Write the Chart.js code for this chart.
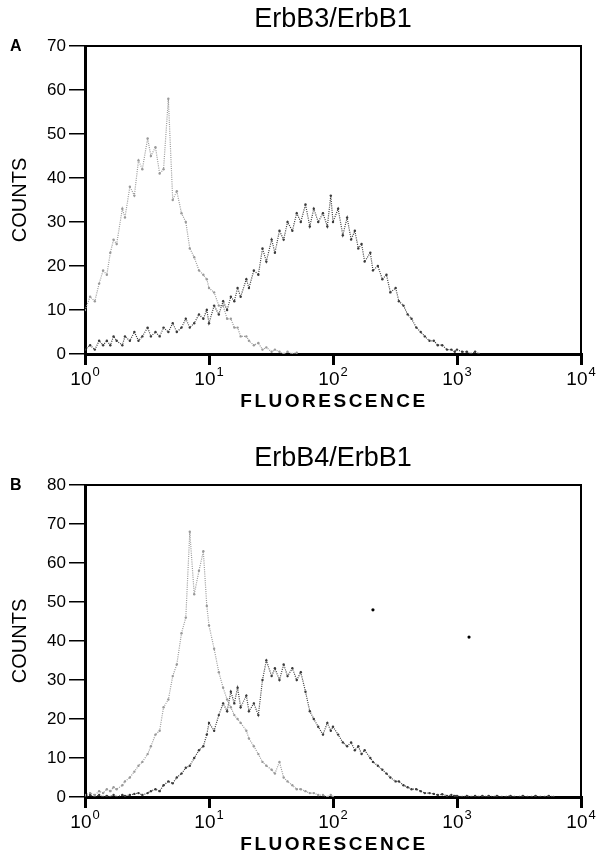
<!DOCTYPE html>
<html>
<head>
<meta charset="utf-8">
<script src="https://cdn.jsdelivr.net/npm/chart.js@4.4.0/dist/chart.umd.min.js"></script>
<style>
    body { margin: 0; background: #fff; width: 605px; height: 858px; overflow: hidden; }
    .panel { position: absolute; left: 0; width: 605px; }
    #panelA { top: 0; height: 430px; }
    #panelB { top: 430px; height: 428px; }
</style>
</head>
<body>
<div class="panel" id="panelA"><canvas id="chartA"></canvas></div>
<div class="panel" id="panelB"><canvas id="chartB"></canvas></div>
<script>
'use strict'

// fluorescence channels (log scale, 10^0 .. 10^4)
var channels = [
    1.0, 1.1, 1.2, 1.3, 1.4, 1.5, 1.6, 1.7, 1.8, 2.0, 2.1, 2.3, 2.5, 2.7, 2.9, 3.2, 3.4, 3.7, 4.0, 4.3, 4.7, 5.1, 5.5, 6.0, 6.5, 7.0, 7.6, 8.3, 9.0, 9.6,
    10, 11, 12, 13, 14, 15, 16, 17, 18, 20, 21, 23, 25, 27, 29, 32, 34, 37, 40, 43, 47, 51, 55, 60, 65, 70, 76, 83, 90, 96,
    100, 110, 120, 130, 140, 150, 160, 170, 180, 200, 210, 230, 250, 270, 290, 320, 340, 370, 400, 430, 470, 510, 550, 600, 650, 700, 760, 830, 900, 960,
    1000, 1100, 1200, 1300, 1400, 1500, 1600, 1700, 1800, 2000, 2100, 2300, 2500, 2700, 2900, 3200, 3400, 3700, 4000, 4300, 4700, 5100, 5500, 6000, 6500, 7000, 7600, 8300, 9000, 9600
];

// panel A - ErbB3/ErbB1
var erbB3Control = [
    10, 13, 12, 16, 19, 18, 23, 26, 25, 33, 31, 38, 36, 44, 42, 49, 45, 47, 41, 42, 58, 35, 37, 32, 30, 24, 22, 19, 18, 17,
    15, 14, 11, 11, 8, 8, 6, 6, 4, 4, 3, 2, 2.5, 1, 1.5, 0.5, 1, 0.5, 0, 0.5, 0, 0.3, null, null, null, null, null, null, null, null,
    null, null, null, null, null, null, null, null, null, null, null, null, null, null, null, null, null, null, null, null, null, null, null, null, null, null, null, null, null, null,
    null, null, null, null, null, null, null, null, null, null, null, null, null, null, null, null, null, null, null, null, null, null, null, null, null, null, null, null, null, null
];
var erbB3Sample = [
    1, 2, 1, 3, 2, 3, 2, 4, 3, 2, 4, 3, 5, 3, 4, 6, 4, 5, 4, 6, 5, 7, 5, 6, 8, 6, 7, 9, 8, 10,
    7, 11, 9, 12, 10, 13, 12, 15, 13, 17, 15, 19, 18, 24, 21, 26, 23, 28, 26, 30, 28, 32, 30, 34, 29, 33, 30, 32, 29, 36,
    30, 33, 27, 31, 26, 28, 24, 25, 21, 23, 19, 20, 17, 18, 14, 15, 12, 11, 9, 8, 6, 5, 4, 3, 3, 2, 2, 1, 1, 0.5,
    1, 0.5, 0.5, 0, 0.5, 0, null, null, null, null, null, null, null, null, null, null, null, null, null, null, null, null, null, null, null, null, null, null, null, null
];

// panel B - ErbB4/ErbB1
var erbB4Control = [
    0.5, 1, 0.5, 1.5, 1, 2, 1.5, 2.5, 2, 3, 4, 5, 6.5, 8, 9, 11, 13, 16, 17, 23, 25, 31, 34, 42, 46, 68, 52, 58, 63, 49,
    44, 38, 32, 28, 25, 23, 21, 20, 19, 17, 15, 13, 11, 9, 8, 7, 6, 9, 5, 4, 3, 2, 2, 1.5, 1, 1, 0.5, 0.5, 0, 0.5,
    0, null, null, null, null, null, null, null, null, null, null, null, null, null, null, null, null, null, null, null, null, null, null, null, null, null, null, null, null, null,
    null, null, null, null, null, null, null, null, null, null, null, null, null, null, null, null, null, null, null, null, null, null, null, null, null, null, null, null, null, null
];
var erbB4Sample = [
    0, 0.5, 0, 0.5, 0, 0.3, 0, 0.5, 0, 0.5, 0.3, 0.5, 0.8, 1, 0.5, 1, 1.5, 2, 1.5, 3, 4, 3.5, 5, 6, 7.5, 8, 10, 12, 13, 16,
    19, 17, 21, 24, 22, 27, 24, 28, 23, 26, 22, 24, 21, 30, 35, 31, 33, 30, 34, 31, 33, 30, 32, 27, 22, 20, 18, 16, 19, 17,
    18, 16, 14, 13, 14, 12, 13, 11, 12, 10, 9, 8, 7, 6, 5, 4, 4, 3, 2.5, 2, 2, 1.5, 1, 1, 0.8, 0.5, 0.7, 0.3, 0.5, 0.3,
    0.3, 0, 0.3, 0, 0.3, 0, 0.3, 0, 0.3, 0, 0.3, 0, 0, 0.3, 0, 0, 0.3, 0, 0, 0.3, 0, 0, 0.3, 0, null, null, null, null, null, null
];
var strayX = [210, 1250];
var strayY = [48, 41];

var decadeTicks = [1, 10, 100, 1000, 10000];
var decadeExps = ['0', '1', '2', '3', '4'];

var FONT = '"Liberation Sans", Arial, Helvetica, sans-serif';

function toPoints(xs, ys) {
    var pts = [];
    for (var i = 0; i < xs.length; i++) {
        if (ys[i] !== null && ys[i] !== undefined) pts.push({ x: xs[i], y: ys[i] });
    }
    return pts;
}

function histSet(data, color) {
    return {
        data: data,
        borderColor: color,
        backgroundColor: color,
        borderWidth: 1.2,
        borderDash: [1, 1.2],
        pointRadius: 1.2,
        pointBorderWidth: 0,
        tension: 0,
        showLine: true
    };
}

// box, panel letter, title, x labels (10 with exponent) and x axis title
var framePlugin = {
    id: 'frame',
    afterDraw: function (chart, args, opts) {
        var a = chart.chartArea;
        var ctx = chart.ctx;
        var xs = chart.scales.x;
        ctx.save();
        ctx.strokeStyle = '#000';
        ctx.lineWidth = 2;
        ctx.beginPath();
        ctx.moveTo(a.left, a.top);
        ctx.lineTo(a.right, a.top);
        ctx.lineTo(a.right, a.bottom);
        ctx.stroke();

        ctx.fillStyle = '#000';
        ctx.textBaseline = 'middle';
        ctx.font = 'bold 16px ' + FONT;
        ctx.textAlign = 'left';
        ctx.fillText(opts.letter, 10, a.top + 1);

        ctx.font = '27px ' + FONT;
        ctx.textAlign = 'center';
        ctx.fillText(opts.title, (a.left + a.right) / 2, a.top - 26);

        // decade labels
        ctx.textBaseline = 'alphabetic';
        ctx.textAlign = 'left';
        decadeTicks.forEach(function (v, i) {
            var px = xs.getPixelForValue(v);
            ctx.font = '19px ' + FONT;
            var w1 = ctx.measureText('10').width;
            ctx.font = '13px ' + FONT;
            var w2 = ctx.measureText(decadeExps[i]).width;
            var x0 = px - (w1 + w2 + 1) / 2;
            ctx.font = '19px ' + FONT;
            ctx.fillText('10', x0, a.bottom + 31);
            ctx.font = '13px ' + FONT;
            ctx.fillText(decadeExps[i], x0 + w1 + 1, a.bottom + 22);
        });

        ctx.font = 'bold 19px ' + FONT;
        ctx.textAlign = 'center';
        ctx.textBaseline = 'middle';
        ctx.letterSpacing = '2.5px';
        ctx.fillText('FLUORESCENCE', (a.left + a.right) / 2 + 1, a.bottom + 48);
        ctx.restore();
    }
};

function makeChart(id, title, letter, yMax, datasets, pad) {
    var ctx = document.getElementById(id).getContext('2d');
    return new Chart(ctx, {
        type: 'scatter',
        data: { datasets: datasets },
        plugins: [framePlugin],
        options: {
            responsive: true,
            maintainAspectRatio: false,
            animation: false,
            layout: { padding: { left: 0, right: 24, top: pad.top, bottom: 0 } },
            plugins: {
                legend: { display: false },
                tooltip: { enabled: false },
                title: { display: false },
                frame: { letter: letter, title: title }
            },
            scales: {
                x: {
                    type: 'logarithmic',
                    min: 1,
                    max: 10000,
                    afterBuildTicks: function (scale) {
                        scale.ticks = decadeTicks.map(function (v) { return { value: v }; });
                    },
                    afterFit: function (scale) { scale.height = pad.xHeight; },
                    border: { display: true, color: '#000', width: 3 },
                    grid: { drawOnChartArea: false, drawTicks: true, tickLength: 11, color: '#000', lineWidth: 3 },
                    ticks: { display: false }
                },
                y: {
                    min: 0,
                    max: yMax,
                    afterFit: function (scale) { scale.width = 85; },
                    border: { display: true, color: '#000', width: 3 },
                    grid: { drawOnChartArea: false, drawTicks: true, tickLength: 16, color: '#000', lineWidth: 1.5 },
                    ticks: {
                        stepSize: 10,
                        color: '#000',
                        padding: 3,
                        font: { family: FONT, size: 17 }
                    },
                    title: {
                        display: true,
                        text: 'COUNTS',
                        color: '#000',
                        font: { family: FONT, size: 20 },
                        padding: { top: 8, bottom: 0 }
                    }
                }
            }
        }
    });
}

makeChart('chartA', 'ErbB3/ErbB1', 'A', 70, [
    histSet(toPoints(channels, erbB3Control), '#9a9a9a'),
    histSet(toPoints(channels, erbB3Sample), '#3a3a3a')
], { top: 46, xHeight: 76 });

var strays = histSet(toPoints(strayX, strayY), '#000');
strays.showLine = false;
strays.pointRadius = 1.6;

makeChart('chartB', 'ErbB4/ErbB1', 'B', 80, [
    histSet(toPoints(channels, erbB4Control), '#9a9a9a'),
    histSet(toPoints(channels, erbB4Sample), '#3a3a3a'),
    strays
], { top: 55, xHeight: 61 });
</script>
</body>
</html>
